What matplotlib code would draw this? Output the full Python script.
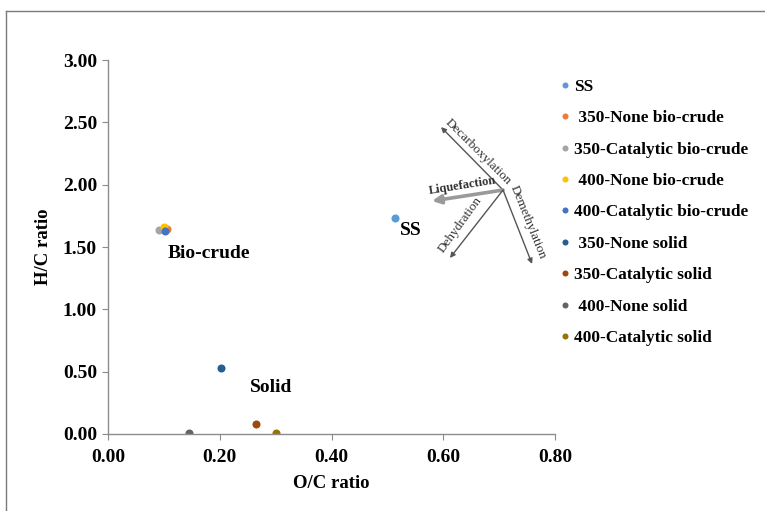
import matplotlib
matplotlib.use("Agg")
import matplotlib.pyplot as plt
from matplotlib.lines import Line2D

plt.rcParams['font.family'] = ['Liberation Serif', 'DejaVu Serif']

# Van Krevelen data (O/C vs H/C)
labels = ["SS", " 350-None bio-crude", "350-Catalytic bio-crude", " 400-None bio-crude",
          "400-Catalytic bio-crude", " 350-None solid", "350-Catalytic solid",
          " 400-None solid", "400-Catalytic solid"]
oc_ratio = [0.513, 0.105, 0.092, 0.100, 0.102, 0.202, 0.264, 0.145, 0.300]
hc_ratio = [1.73, 1.645, 1.64, 1.66, 1.625, 0.53, 0.08, 0.01, 0.01]
colors = ["#5B9BD5", "#ED7D31", "#A5A5A5", "#FFC000", "#4472C4",
          "#255E91", "#9E480E", "#636363", "#997300"]

x_ticks = [0.0, 0.2, 0.4, 0.6, 0.8]
y_ticks = [0.0, 0.5, 1.0, 1.5, 2.0, 2.5, 3.0]

fig = plt.figure(figsize=(7.65, 5.11), dpi=100)
ax = fig.add_axes([108 / 765, 1 - 434 / 511, (555 - 108) / 765, (434 - 60) / 511])

for lab, x, y, c in zip(labels, oc_ratio, hc_ratio, colors):
    ax.plot([x], [y], 'o', color=c, markersize=5.8, markeredgewidth=0, label=lab)

ax.set_xlim(0, 0.8)
ax.set_ylim(0, 3.0)
ax.set_xticks(x_ticks)
ax.set_yticks(y_ticks)
ax.set_xticklabels([f"{v:.2f}" for v in x_ticks])
ax.set_yticklabels([f"{v:.2f}" for v in y_ticks])
for s in ["top", "right"]:
    ax.spines[s].set_visible(False)
for s in ["left", "bottom"]:
    ax.spines[s].set_color("#8c8c8c")
    ax.spines[s].set_linewidth(1.0)
ax.tick_params(direction="out", length=4, color="#8c8c8c", labelsize=14, pad=4)
for t in ax.get_xticklabels() + ax.get_yticklabels():
    t.set_fontweight("bold")
ax.tick_params(axis="x", pad=7)
ax.set_xlabel("O/C ratio", fontsize=13.5, fontweight="bold", labelpad=6)
ax.set_ylabel("H/C ratio", fontsize=13.5, fontweight="bold", labelpad=8)

# group labels
ax.text(0.107, 1.45, "Bio-crude", fontsize=14, fontweight="bold", ha="left", va="center")
ax.text(0.522, 1.63, "SS", fontsize=14, fontweight="bold", ha="left", va="center")
ax.text(0.254, 0.37, "Solid", fontsize=14, fontweight="bold", ha="left", va="center")

# reaction pathway arrows
origin = (0.707, 1.957)
paths = [
    ((0.596, 2.462), "#555555", 1.0, 6),
    ((0.580, 1.869), "#9a9a9a", 2.6, 10),
    ((0.612, 1.412), "#555555", 1.0, 6),
    ((0.759, 1.364), "#555555", 1.0, 6),
]
for end, col, lw, hw in paths:
    ax.annotate("", xy=end, xytext=origin,
                arrowprops=dict(arrowstyle=f"-|>,head_length={hw/20:.2f},head_width={hw/40:.2f}",
                                color=col, lw=lw, shrinkA=0, shrinkB=0))

path_text = dict(fontsize=9.5, color="#333333", ha="center", va="center",
                 rotation_mode="anchor")
ax.text(0.663, 2.262, "Decarboxylation", rotation=-45, **path_text)
ax.text(0.635, 1.99, "Liquefaction", rotation=9, fontweight="bold",
        **{**path_text, "fontsize": 9})
ax.text(0.631, 1.68, "Dehydration", rotation=54, **path_text)
ax.text(0.752, 1.70, "Demethylation", rotation=-68, **path_text)

leg = ax.legend(loc="upper left", bbox_to_anchor=(555 / 765, 1 - 72 / 511),
                bbox_transform=fig.transFigure, frameon=False,
                prop=dict(family="Liberation Serif", weight="bold", size=12.4),
                markerscale=0.75, handlelength=0.4, handletextpad=0.3,
                labelspacing=0.89, borderaxespad=0)

# outer frame lines
fig.add_artist(Line2D([6 / 765, 6 / 765], [0, 1 - 11 / 511], transform=fig.transFigure,
                      color="#7a7a7a", lw=1.0))
fig.add_artist(Line2D([6 / 765, 1], [1 - 11 / 511, 1 - 11 / 511], transform=fig.transFigure,
                      color="#7a7a7a", lw=1.0))

fig.savefig("out.png", dpi=100)
